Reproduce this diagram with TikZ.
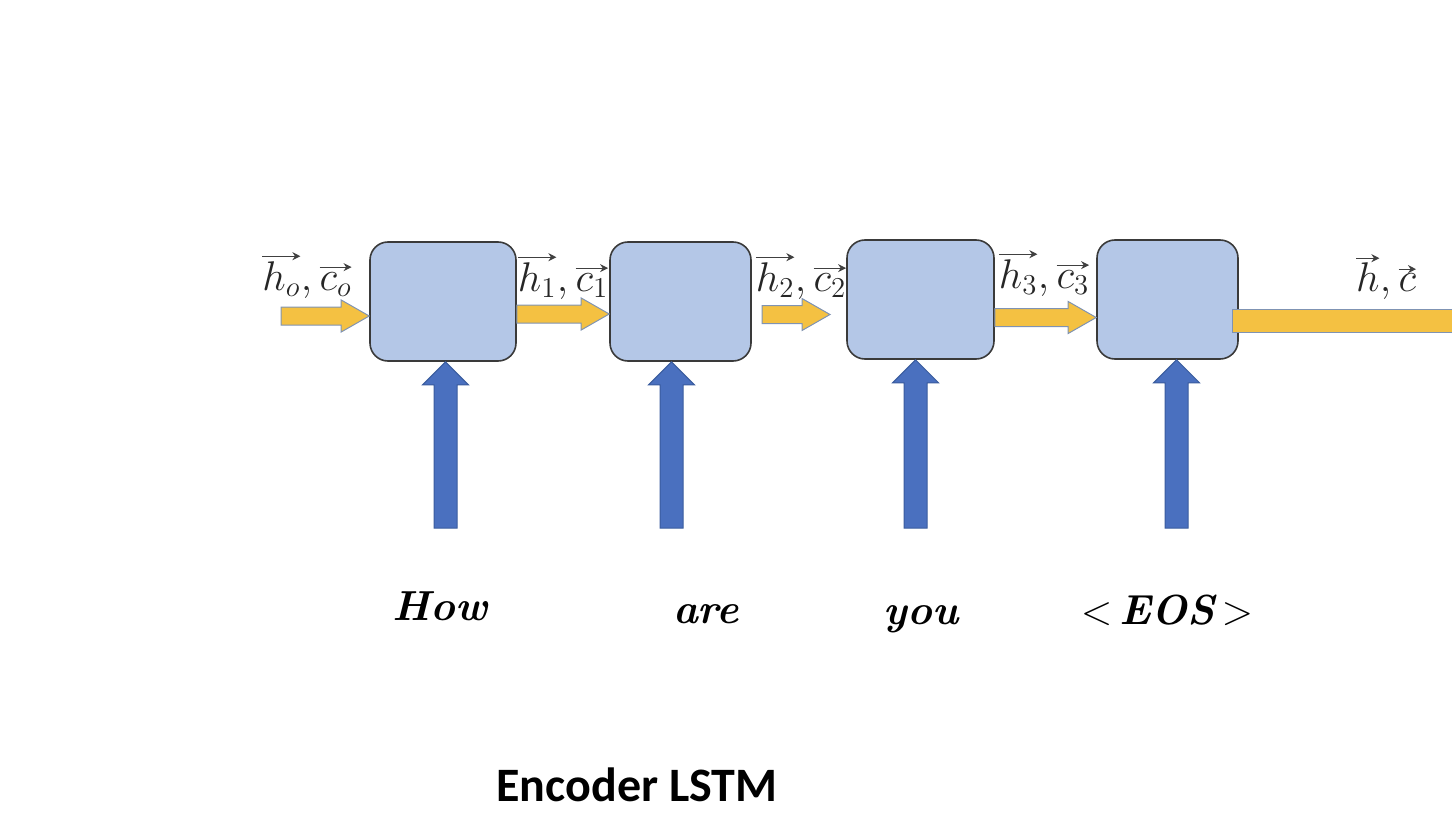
\documentclass[tikz,border=0pt]{standalone}
\usepackage{fontspec}
\newfontfamily\calibri{Carlito}
\usetikzlibrary{calc,arrows.meta}
\definecolor{cellblue}{HTML}{B4C7E7}
\definecolor{cellline}{HTML}{3A3A3A}
\definecolor{stategold}{HTML}{F4C142}
\definecolor{stateline}{HTML}{7F93B3}
\definecolor{inblue}{HTML}{4A70BF}
\definecolor{inline}{HTML}{3A5C9E}
% state arrow: from (#1) to tip (#2), same height
\newcommand{\statearrow}[2]{%
  \filldraw[state] ($(#1)+(0,-9)$) -- ($(#2)+(-28,-9)$) -- ($(#2)+(-28,-16)$) -- (#2)
    -- ($(#2)+(-28,16)$) -- ($(#2)+(-28,9)$) -- ($(#1)+(0,9)$) -- cycle;}
% input arrow: from foot (#1) up to tip (#2)
\newcommand{\inputarrow}[2]{%
  \filldraw[input] ($(#1)+(-11.5,0)$) -- ($(#2)+(-11.5,23)$) -- ($(#2)+(-23,23)$) -- (#2)
    -- ($(#2)+(23,23)$) -- ($(#2)+(11.5,23)$) -- ($(#1)+(11.5,0)$) -- cycle;}
% vector: thin arrow drawn over the symbol
\newcommand{\hvec}[1]{\tikz[baseline=(v.base)]{%
  \node[inner sep=0pt,outer sep=0pt,anchor=base] (v) {$#1$};
  \draw[black!75,line width=0.6pt,-{Stealth[length=4pt,width=4pt]}]
    ([yshift=2.5pt]v.north west) -- ([yshift=2.5pt]v.north east);}}
\begin{document}
\begin{tikzpicture}[x=0.5pt,y=-0.5pt,
    cell/.style={draw=cellline,fill=cellblue,line width=0.8pt,rounded corners=9pt,
      minimum width=72pt,minimum height=59.5pt},
    state/.style={fill=stategold,draw=stateline,line width=0.5pt},
    input/.style={fill=inblue,draw=inline,line width=0.5pt},
    vec/.style={font=\fontsize{20}{24}\selectfont,text=black!85,anchor=base,inner sep=0pt},
    word/.style={font=\fontsize{21}{25}\selectfont\bfseries\itshape,anchor=base,inner sep=0pt}]
  \useasboundingbox (0,0) rectangle (1452,840);
  % cells
  \node[cell,minimum width=73pt] (c1) at (443,301.5) {};
  \node[cell,minimum width=70.5pt] (c2) at (680.5,301.5) {};
  \node[cell,minimum width=73.5pt] (c3) at (920.5,299.5) {};
  \node[cell,minimum width=70.5pt] (c4) at (1167.5,299.5) {};
  % hidden states
  \coordinate (h0) at (281,316);
  \statearrow{h0}{c1.west |- h0}
  \statearrow{c1.east |- 0,314}{c2.west |- 0,314}
  \coordinate (h2s) at (762,314.5);
  \coordinate (h2e) at (830,314.5);
  \statearrow{h2s}{h2e}
  \statearrow{c3.east |- 0,317.5}{c4.west |- 0,317.5}
  \coordinate (out) at (1452,332);
  \filldraw[state] ($(c4.east |- 0,309)+(-6,0)$) rectangle (out);
  % inputs
  \foreach \i/\x in {1/445.5,2/671.5,3/915.5,4/1176.5}{
    \coordinate (in\i) at (\x,528);
    \inputarrow{in\i}{in\i |- c\i.south}
  }
  % labels
  \node[vec] (l0) at (307,290) {\hvec{h_o}$,$\,\hvec{c_o}};
  \node[vec] (l1) at (563,291) {\hvec{h_1}$,$\,\hvec{c_1}};
  \node[vec] (l2) at (801,291) {\hvec{h_2}$,$\,\hvec{c_2}};
  \node[vec] (l3) at (1044,288) {\hvec{h_3}$,$\,\hvec{c_3}};
  \node[vec] (lhc) at (1386,292) {\hvec{h}$,$\,\hvec{c}};
  % words
  \node[word] (w1) at (440,620) {How};
  \node[word] (w2) at (706,623) {are};
  \node[word] (w3) at (921,624) {you};
  \node[word] (w4) at (1167,624) {$<$\,EOS\,$>$};
  \node[font=\calibri\fontsize{24}{28}\selectfont\bfseries,anchor=base,inner sep=0pt]
    (title) at (637,801) {Encoder LSTM};
\end{tikzpicture}
\end{document}
